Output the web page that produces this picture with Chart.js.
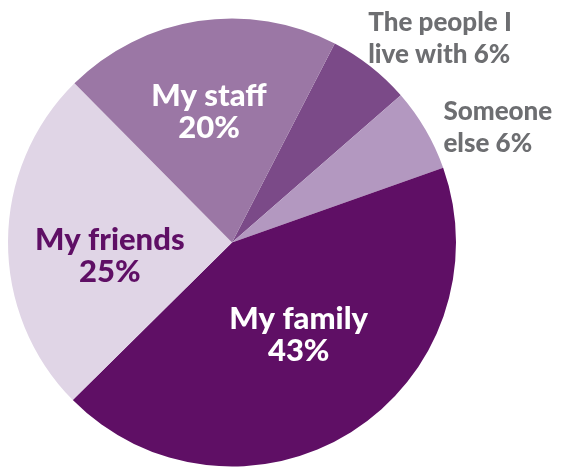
<!DOCTYPE html>
<html lang="en">
<head>
    <meta charset="UTF-8">
    <title>Who supports you</title>
    <script src="https://cdn.jsdelivr.net/npm/chart.js"></script>
    <style>
        html, body { margin: 0; padding: 0; background: #fff; }
        #wrap { width: 564px; height: 468px; }
    </style>
</head>
<body>
    <div id="wrap"><canvas id="pieChart"></canvas></div>

    <script>
        const categories = ['The people I live with', 'Someone else', 'My family', 'My friends', 'My staff'];
        const shares = [6, 6, 43, 25, 20];
        const sliceColors = ['#7b4a88', '#b398c0', '#5f0f65', '#e0d5e6', '#9b77a5'];
        const labelLines = [
            ['The people I', 'live with 6%'],
            ['Someone', 'else 6%'],
            ['My family', '43%'],
            ['My friends', '25%'],
            ['My staff', '20%']
        ];

        // where each label sits, relative to its slice's mid angle
        const labelStyle = [
            { r: 1.0, dx: -2, dy: -44, align: 'left', color: '#6d6e71', size: 26 },
            { r: 1.0, dx: 18, dy: -18, align: 'left', color: '#6d6e71', size: 26 },
            { r: 0.51, dx: 6, dy: -20, align: 'center', color: '#ffffff', size: 31 },
            { r: 0.55, dx: 1, dy: -2, align: 'center', color: '#5f0f65', size: 31 },
            { r: 0.59, dx: -3, dy: -16, align: 'center', color: '#ffffff', size: 31 }
        ];

        const sliceLabels = {
            id: 'sliceLabels',
            afterDatasetsDraw(chart) {
                const c = chart.ctx;
                const meta = chart.getDatasetMeta(0);
                meta.data.forEach((arc, i) => {
                    const st = labelStyle[i];
                    const mid = (arc.startAngle + arc.endAngle) / 2;
                    const rr = arc.outerRadius * st.r;
                    const x = arc.x + Math.cos(mid) * rr + st.dx;
                    const y = arc.y + Math.sin(mid) * rr + st.dy;
                    c.save();
                    c.fillStyle = st.color;
                    c.font = '900 ' + st.size + 'px Lato, "Open Sans", sans-serif';
                    c.textAlign = st.align;
                    c.textBaseline = 'middle';
                    labelLines[i].forEach((line, k) => {
                        c.fillText(line, x, y + k * 32);
                    });
                    c.restore();
                });
            }
        };

        const ctx = document.getElementById('pieChart').getContext('2d');
        new Chart(ctx, {
            type: 'pie',
            data: {
                labels: categories,
                datasets: [{
                    data: shares,
                    backgroundColor: sliceColors,
                    borderWidth: 0
                }]
            },
            options: {
                responsive: true,
                maintainAspectRatio: false,
                animation: false,
                rotation: 27.3,
                layout: { padding: { top: 17, bottom: 0, left: 8, right: 108 } },
                plugins: {
                    legend: { display: false },
                    tooltip: { enabled: false }
                }
            },
            plugins: [sliceLabels]
        });
    </script>
</body>
</html>
